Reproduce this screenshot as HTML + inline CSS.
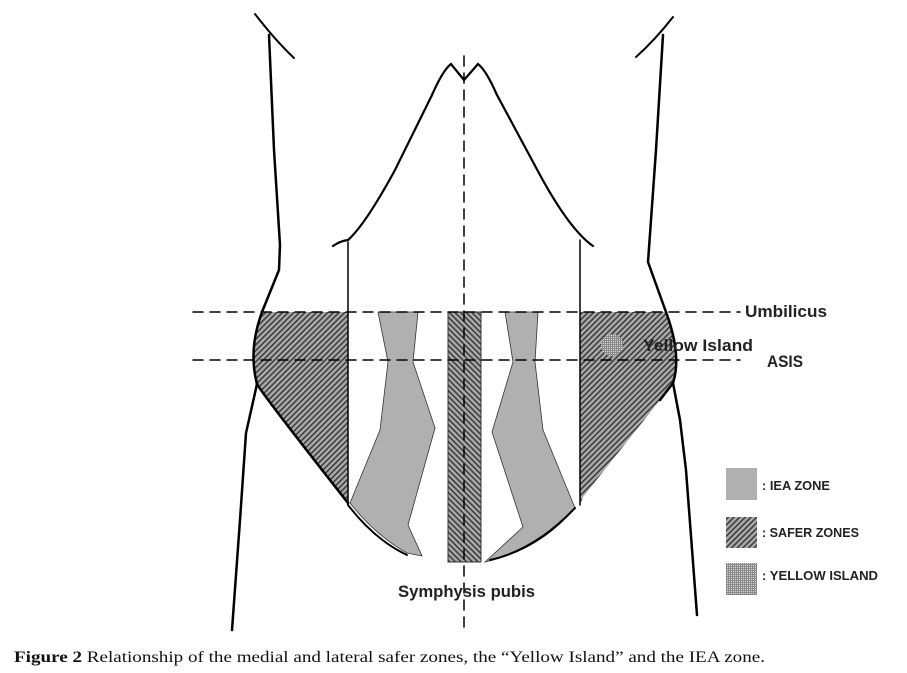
<!DOCTYPE html>
<html><head><meta charset="utf-8"><style>
html,body{margin:0;padding:0;background:#fff;}
svg{display:block;}
.l{font-family:"Liberation Sans",sans-serif;font-weight:bold;fill:#222;}
</style></head><body>
<svg width="907" height="673" viewBox="0 0 907 673" xmlns="http://www.w3.org/2000/svg">
<defs>
<pattern id="sf" width="4" height="4" patternUnits="userSpaceOnUse" patternTransform="rotate(45)">
<rect width="4" height="4" fill="#a8a8a8"/><rect width="1.4" height="4" fill="#333"/>
</pattern>
<pattern id="sf2" width="4" height="4" patternUnits="userSpaceOnUse" patternTransform="rotate(-45)">
<rect width="4" height="4" fill="#a8a8a8"/><rect width="1.4" height="4" fill="#333"/>
</pattern>
<pattern id="yi" width="2" height="2" patternUnits="userSpaceOnUse">
<rect width="2" height="2" fill="#ddd"/><rect width="1" height="2" fill="#888"/><rect width="2" height="1" fill="#888"/>
</pattern>
</defs>
<path d="M262,312 L348,312 L348,503 L257,384 Q248,360 262,312 Z" fill="url(#sf)"/>
<path d="M580,312 L666,312 Q680,355 673,383 L660,400 L583,497 L580,505 Z" fill="url(#sf)"/>
<rect x="448" y="312" width="33" height="250" fill="url(#sf2)" stroke="#333" stroke-width="1"/>
<path d="M378,312 L418,312 L413,362 L435,428 L408,525 L422,556 L407,553 Q375,535 350,503 L380,430 L388,362 Z" fill="#b0b0b0" stroke="#333" stroke-width="0.8"/>
<path d="M505,312 L538,312 L535,362 L543,430 L575,508 Q540,550 485,562 L523,527 L492,432 L513,362 Z" fill="#b0b0b0" stroke="#333" stroke-width="0.8"/>
<circle cx="612" cy="345" r="11" fill="url(#yi)"/>
<g fill="none" stroke="#000" stroke-linecap="round">
<path d="M255,14 Q275,40 294,58" stroke-width="2"/>
<path d="M269,35 L274,150 L280,245 L279,270 L262,312 Q248,350 257,384 Q263,395 348,503" stroke-width="2.5"/>
<path d="M257,384 L246,433 L240,520 L232,630" stroke-width="2.5"/>
<path d="M673,17 Q655,40 636,57" stroke-width="2"/>
<path d="M663,35 L656,150 L648,262 L666,312 Q682,355 673,383 L660,400" stroke-width="2.5"/>
<path d="M673,383 L680,420 L686,470 L697,615" stroke-width="2.5"/>
<path d="M333,246 Q340,241 348,240 Q365,225 395,170 L432,95 Q443,70 451,64 L464,80 L478,64 Q486,70 497,95 L540,175 Q570,230 593,246" stroke-width="2.2"/>
<path d="M348,242 L348,505" stroke-width="1.5"/>
<path d="M580,240 L580,505" stroke-width="1.5"/>
<path d="M348,505 Q375,540 407,555" stroke-width="2"/>
<path d="M575,508 Q535,550 490,560" stroke-width="2"/>
<g stroke-dasharray="10,7" stroke-width="1.5">
<path d="M193,312 L740,312"/>
<path d="M193,360 L740,360"/>
<path d="M464,56 L464,632"/>
</g>
</g>
<rect x="726" y="468" width="31" height="32" fill="#b0b0b0"/>
<rect x="726" y="517" width="31" height="31" fill="url(#sf)"/>
<rect x="726" y="563" width="31" height="32" fill="url(#yi)"/>
<text class="l" x="762" y="490" font-size="13" textLength="68" lengthAdjust="spacingAndGlyphs">: IEA ZONE</text>
<text class="l" x="762" y="537" font-size="13" textLength="97" lengthAdjust="spacingAndGlyphs">: SAFER ZONES</text>
<text class="l" x="762" y="580" font-size="13" textLength="116" lengthAdjust="spacingAndGlyphs">: YELLOW ISLAND</text>
<text class="l" x="745" y="317" font-size="17" textLength="82" lengthAdjust="spacingAndGlyphs">Umbilicus</text>
<text class="l" x="643" y="351" font-size="17" textLength="110" lengthAdjust="spacingAndGlyphs">Yellow Island</text>
<text class="l" x="767" y="367" font-size="17" textLength="36" lengthAdjust="spacingAndGlyphs">ASIS</text>
<text class="l" x="398" y="597" font-size="17" textLength="137" lengthAdjust="spacingAndGlyphs">Symphysis pubis</text>
<text x="14" y="662" font-family="Liberation Serif,serif" font-size="16" fill="#111" textLength="751" lengthAdjust="spacingAndGlyphs"><tspan font-weight="bold">Figure 2</tspan>  Relationship of the medial and lateral safer zones, the “Yellow Island” and the IEA zone.</text>
</svg>
</body></html>
